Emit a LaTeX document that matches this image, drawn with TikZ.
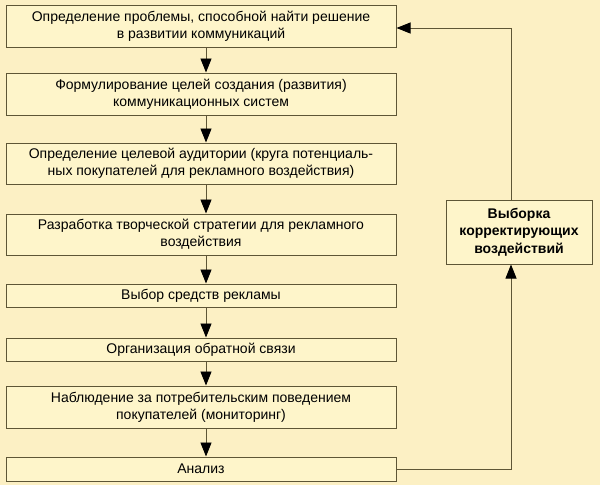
\documentclass[tikz,border=0pt]{standalone}
\usepackage{fontspec}
\setmainfont{Liberation Sans}
\usepackage{tikz}
\usetikzlibrary{arrows.meta, calc, positioning}
\definecolor{bg_color}{HTML}{FCF0C4}
\definecolor{box_fill}{HTML}{FEF5CA}
\definecolor{line_color}{HTML}{5E5636}

\begin{document}
\begin{tikzpicture}[x=1pt, y=1pt]
	\tikzstyle{box_style}=[rectangle, draw=line_color, fill=box_fill, line width=1pt, minimum width=390pt, align=center, inner sep=0pt, font=\fontsize{14}{17}\selectfont]
	\tikzstyle{choice_style}=[rectangle, draw=line_color, fill=box_fill, line width=1pt, minimum width=146pt, minimum height=64pt, align=center, inner sep=0pt, font=\bfseries\fontsize{14}{17.5}\selectfont]
	\tikzstyle{arrow_style}=[draw=line_color, line width=0.8pt, -{Triangle[length=14pt, width=11pt, fill=black, color=black]}]
	% background
	\fill[bg_color] (0, 0) rectangle (600, -485);
	\useasboundingbox (0, 0) rectangle (600, -485);
	% steps
	\node at (201, -26) [box_style, minimum height=42pt] (step_1) {Определение проблемы, способной найти решение\\в развитии коммуникаций};
	\node at (201, -94) [box_style, minimum height=42pt] (step_2) {Формулирование целей создания (развития)\\коммуникационных систем};
	\node at (201, -163.5) [box_style, minimum height=41pt] (step_3) {Определение целевой аудитории (круга потенциаль-\\ных покупателей для рекламного воздействия)};
	\node at (201, -234.5) [box_style, minimum height=41pt] (step_4) {Разработка творческой стратегии для рекламного\\воздействия};
	\node at (201, -295.5) [box_style, minimum height=23pt] (step_5) {Выбор средств рекламы};
	\node at (201, -349.5) [box_style, minimum height=23pt] (step_6) {Организация обратной связи};
	\node at (201, -407) [box_style, minimum height=42pt] (step_7) {Наблюдение за потребительским поведением\\покупателей (мониторинг)};
	\node at (201, -469) [box_style, minimum height=24pt] (step_8) {Анализ};
	% correction
	\node at (519, -232) [choice_style] (choice) {Выборка\\корректирующих\\воздействий};
	% connect: step i -> step i+1
	\foreach \i [evaluate=\i as \j using int(\i+1)] in {1,...,7}
		\draw[arrow_style] ([xshift=5pt]step_\i.south) -- ([xshift=5pt]step_\j.north);
	% connect: analysis -> choice -> first step
	\draw[arrow_style] (step_8.east) -| ([xshift=-8pt]choice.south);
	\draw[arrow_style] ([xshift=-8pt]choice.north) |- ([yshift=-2pt]step_1.east);
\end{tikzpicture}
\end{document}
